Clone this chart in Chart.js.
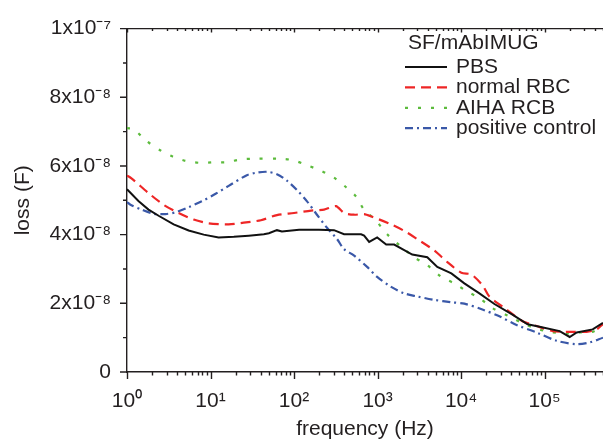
<!DOCTYPE html>
<html>
<head>
<meta charset="utf-8">
<script src="https://cdn.jsdelivr.net/npm/chart.js@4.4.1/dist/chart.umd.min.js"></script>
<style>
  html, body { margin: 0; padding: 0; background: #fff; }
  canvas { display: block; }
</style>
</head>
<body>
<canvas id="c" width="603" height="442"></canvas>
<script>
// ---- data (loss in units of 1e-8 F, frequency in Hz) ----
const freqPBS = [1,1.37,1.81,2.39,3.62,5.47,8.28,12.5,19,28.7,43.5,50,62.4,71.6,115,199,301,397,635,690,793,989,1268,1581,2601,3936,5190,7645,10940,16560,25060,41210,62520,87100,151400,199400,242300,376400,500000];
const lossPBS = [5.32,4.98,4.73,4.55,4.30,4.12,4.00,3.92,3.94,3.97,4.01,4.04,4.13,4.09,4.14,4.14,4.13,4.01,4.01,3.97,3.79,3.92,3.71,3.71,3.42,3.34,3.06,2.87,2.58,2.29,1.98,1.67,1.39,1.32,1.19,1.02,1.15,1.24,1.43];

const freqNormal = [1,1.13,1.81,2.74,4.15,6.28,9.51,16.5,25,40.1,62.4,99.8,160,229,318,397,524,690,861,1455,2084,2985,4777,6843,10070,13280,17990,21830,34910,54450,80170,124700,199400,319000,420300,500000];
const lossNormal = [5.72,5.64,5.21,4.87,4.63,4.44,4.33,4.30,4.35,4.42,4.57,4.63,4.70,4.73,4.83,4.63,4.58,4.60,4.52,4.30,4.11,3.87,3.54,3.20,2.89,2.84,2.53,2.20,1.82,1.48,1.34,1.19,1.17,1.17,1.24,1.40];

const freqAIHA = [1,1.2,1.71,2.52,3.62,5.18,7.63,10.9,15.6,23,33,69.6,99.8,143,210,301,420,553,690,962,1303,1919,2748,3936,5797,8302,11890,16560,23710,37930,54450,80170,114800,183600,263100,376400,500000];
const lossAIHA = [7.10,7.07,6.73,6.45,6.26,6.14,6.09,6.11,6.11,6.19,6.21,6.21,6.16,6.02,5.86,5.66,5.38,5.11,4.73,4.40,4.01,3.65,3.34,3.11,2.77,2.58,2.34,2.15,1.86,1.62,1.42,1.26,1.17,1.12,1.15,1.17,1.34];

const freqPositive = [1,1.1,1.49,2.08,2.9,3.93,5.47,7.84,11.5,16.5,27.2,34.9,47.3,62.4,82.2,108,143,188,248,327,397,524,750,989,1455,2084,2985,4777,7645,10940,17990,28770,46100,80170,139300,242300,346400,500000];
const lossPositive = [4.95,4.87,4.73,4.61,4.60,4.66,4.80,4.97,5.19,5.42,5.73,5.80,5.83,5.76,5.57,5.30,4.97,4.58,4.20,3.87,3.58,3.39,3.06,2.77,2.48,2.29,2.20,2.10,2.03,1.99,1.82,1.62,1.37,1.15,0.91,0.81,0.86,1.00];

const seriesNames = ['PBS', 'normal RBC', 'AIHA RCB', 'positive control'];
const legendTitle = 'SF/mAbIMUG';

const xTickValues = [1, 10, 100, 1000, 10000, 100000];
const xTickLabels = ['10⁰', '10¹', '10²', '10³', '10⁴', '10⁵'];
const yTickValues = [0, 2, 4, 6, 8, 10];
const yTickLabels = ['0', '2x10⁻⁸', '4x10⁻⁸', '6x10⁻⁸', '8x10⁻⁸', '1x10⁻⁷'];

// ---- styling ----
const FONT = "'Liberation Sans', Arial, Helvetica, sans-serif";
const TEXT = '#231f20';
const AXIS = '#231f20';

function pts(fx, fy) { return fx.map((f, i) => ({ x: f, y: fy[i] })); }

const datasets = [
  { label: seriesNames[0], data: pts(freqPBS, lossPBS), borderColor: '#111111', borderWidth: 2, borderDash: [], tension: 0 },
  { label: seriesNames[1], data: pts(freqNormal, lossNormal), borderColor: '#ee2626', borderWidth: 2.2, borderDash: [10, 6], tension: 0.25 },
  { label: seriesNames[2], data: pts(freqAIHA, lossAIHA), borderColor: '#5cbb3c', borderWidth: 2.2, borderDash: [3, 10], tension: 0.3 },
  { label: seriesNames[3], data: pts(freqPositive, lossPositive), borderColor: '#3a58a8', borderWidth: 2.2, borderDash: [8, 4, 2, 4], tension: 0.3 }
].map(d => Object.assign(d, { pointRadius: 0, fill: false }));

const decorPlugin = {
  id: 'decor',
  afterDraw(chart) {
    const { ctx, chartArea: a, scales: { x, y } } = chart;
    ctx.save();
    ctx.strokeStyle = AXIS;
    ctx.lineWidth = 1.4;
    ctx.beginPath();
    ctx.moveTo(a.left, a.top); ctx.lineTo(a.right + 2, a.top);
    for (let v = 0; v <= 10; v++) {
      const p = y.getPixelForValue(v);
      const len = v % 2 === 0 ? 7 : 4;
      ctx.moveTo(a.left - len, p); ctx.lineTo(a.left, p);
    }
    for (let d = 0; d <= 5; d++) {
      for (let m = 1; m <= 9; m++) {
        const v = m * Math.pow(10, d);
        if (v > x.max) break;
        const p = Math.round(x.getPixelForValue(v)) + 0.5;
        const len = m === 1 ? 7 : 3.5;
        ctx.moveTo(p, a.bottom); ctx.lineTo(p, a.bottom + len);
        ctx.moveTo(p, a.top); ctx.lineTo(p, a.top + (m === 1 ? 4 : 2.5));
      }
    }
    ctx.stroke();

    // legend
    ctx.fillStyle = TEXT;
    ctx.font = '21px ' + FONT;
    ctx.textBaseline = 'middle';
    ctx.textAlign = 'left';
    ctx.fillText(legendTitle, 408, 43);
    chart.data.datasets.forEach((ds, i) => {
      const yy = 67 + i * 20.4;
      ctx.save();
      ctx.strokeStyle = ds.borderColor;
      ctx.lineWidth = 2.2;
      ctx.setLineDash(ds.borderDash || []);
      ctx.beginPath();
      ctx.moveTo(405, yy); ctx.lineTo(447, yy);
      ctx.stroke();
      ctx.restore();
      ctx.fillText(ds.label, 456, yy);
    });
    ctx.restore();
  }
};

new Chart(document.getElementById('c'), {
  type: 'line',
  data: { datasets },
  options: {
    responsive: false,
    animation: false,
    layout: { padding: { top: 23, left: 0, right: 0, bottom: 0 } },
    plugins: { legend: { display: false }, tooltip: { enabled: false } },
    scales: {
      x: {
        type: 'logarithmic', min: 1, max: 500000,
        grid: { display: false, drawTicks: false },
        border: { display: true, color: AXIS, width: 1.4 },
        afterBuildTicks: s => { s.ticks = xTickValues.map(v => ({ value: v, major: true })); },
        afterFit: s => { s.height = 70; },
        ticks: {
          autoSkip: false, maxRotation: 0, padding: 17, color: TEXT,
          font: { family: FONT, size: 21 },
          callback: (v) => { const i = xTickValues.indexOf(v); return i >= 0 ? xTickLabels[i] : ''; }
        },
        title: { display: true, text: 'frequency (Hz)', color: TEXT, font: { family: FONT, size: 21 }, padding: { top: 0, bottom: 0 } }
      },
      y: {
        type: 'linear', min: 0, max: 10,
        grid: { display: false, drawTicks: false },
        border: { display: true, color: AXIS, width: 1.4 },
        afterBuildTicks: s => { s.ticks = yTickValues.map(v => ({ value: v })); },
        afterFit: s => { s.width = 127; },
        ticks: {
          autoSkip: false, padding: 16, color: TEXT,
          font: { family: FONT, size: 21 },
          callback: (v) => { const i = yTickValues.indexOf(v); return i >= 0 ? yTickLabels[i] : ''; }
        },
        title: { display: true, text: 'loss (F)', color: TEXT, font: { family: FONT, size: 21 }, padding: { top: 11, bottom: 11 } }
      }
    }
  },
  plugins: [decorPlugin]
});
</script>
</body>
</html>
